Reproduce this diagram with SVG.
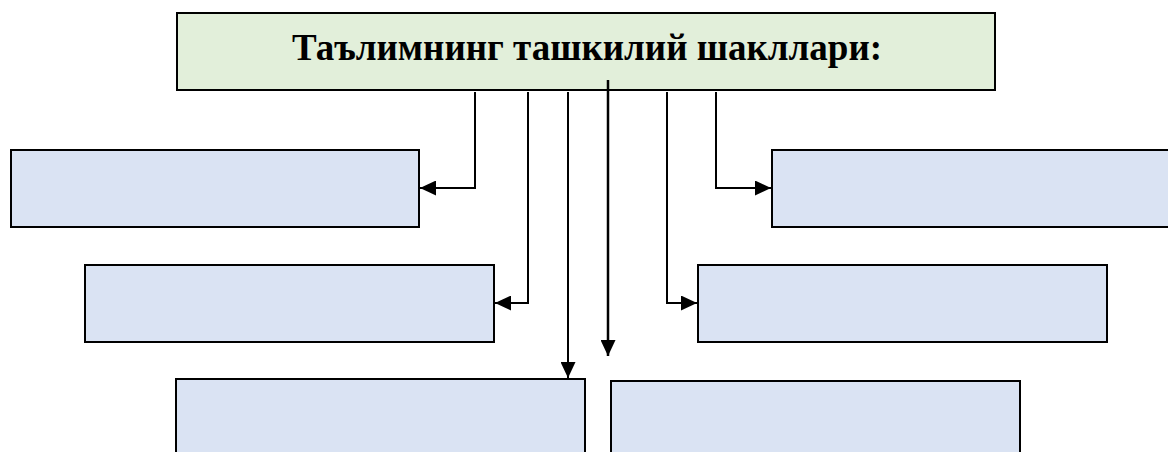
<svg xmlns="http://www.w3.org/2000/svg" width="1168" height="452" viewBox="0 0 1168 452">
<style>
.box{fill:#dae3f3;stroke:#000;stroke-width:2}
.top{fill:#e2efda;stroke:#000;stroke-width:2}
.ln{fill:none;stroke:#000;stroke-width:2}
.ttl{font-family:"Liberation Serif","Times New Roman",serif;font-weight:bold;font-size:37px;fill:#000}
</style>
<defs>
<marker id="ah" viewBox="0 0 16 15" refX="16" refY="7.5" markerWidth="16" markerHeight="15" markerUnits="userSpaceOnUse" orient="auto">
<path d="M0,0 L16,7.5 L0,15 Z" fill="#000"/>
</marker>
</defs>
<g id="top-node"><rect class="top" x="177" y="13" width="818" height="77"/>
<text class="ttl" x="587" y="60" text-anchor="middle">Таълимнинг ташкилий шакллари:</text></g>
<g id="node-l1"><rect class="box" x="11" y="150" width="408" height="77"/></g>
<g id="node-r1"><rect class="box" x="772" y="150" width="400" height="77"/></g>
<g id="node-l2"><rect class="box" x="85" y="265" width="409" height="77"/></g>
<g id="node-r2"><rect class="box" x="698" y="265" width="409" height="77"/></g>
<g id="node-b1"><rect class="box" x="176" y="379" width="409" height="80"/></g>
<g id="node-b2"><rect class="box" x="611" y="381" width="409" height="80"/></g>
<g id="connectors">
<polyline class="ln" points="475,92 475,188 420,188" marker-end="url(#ah)"/>
<polyline class="ln" points="528,92 528,303 495,303" marker-end="url(#ah)"/>
<polyline class="ln" points="568,92 568,378" marker-end="url(#ah)"/>
<polyline class="ln" style="stroke-width:2.5" points="608,80 608,356" marker-end="url(#ah)"/>
<polyline class="ln" points="667,92 667,303 697,303" marker-end="url(#ah)"/>
<polyline class="ln" points="716,92 716,188 771,188" marker-end="url(#ah)"/>
</g>
</svg>
